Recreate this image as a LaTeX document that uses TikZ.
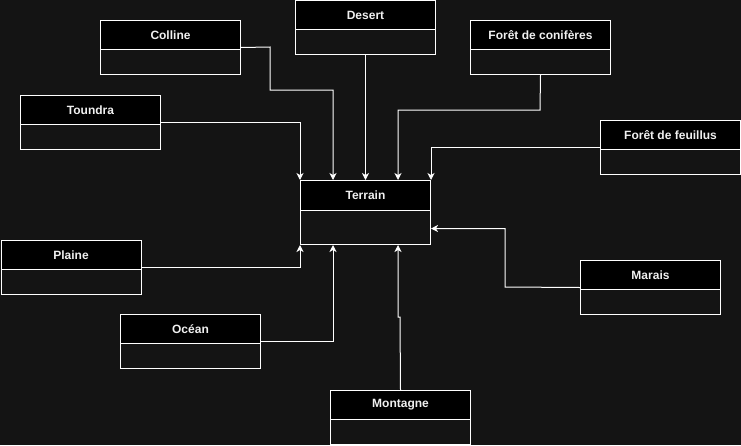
\documentclass[tikz,border=0pt]{standalone}
\usepackage{fontspec}
\setmainfont{Liberation Sans}
\usetikzlibrary{arrows.meta}
\definecolor{bg}{RGB}{20,20,20}
\definecolor{txt}{RGB}{240,240,240}
\tikzset{
  boxbody/.style={draw=white, line width=1pt, inner sep=0pt, rectangle},
  boxhead/.style={draw=white, fill=black, line width=1pt, inner sep=0pt, rectangle,
    text=txt, font=\fontsize{12}{14}\selectfont\bfseries},
  conn/.style={draw=white, line width=1pt, -{Stealth[length=7pt,width=7pt,inset=2pt]}},
}
\newcommand\umlbox[7]{%
  \node[boxbody, minimum width=#4pt, minimum height=#5pt, anchor=north west] (#1) at (#2,#3) {};
  \node[boxhead, minimum width=#4pt, minimum height=#6pt, anchor=north west] (#1-h) at (#2,#3) {#7};
}
\begin{document}
\begin{tikzpicture}[x=1pt,y=-1pt]
\fill[bg] (0,0) rectangle (741,445);
\useasboundingbox (0,0) rectangle (741,445);
\umlbox{colline}{100}{20}{140}{54}{29}{Colline}
\umlbox{desert}{295}{0}{140}{54}{29}{Desert}
\umlbox{conif}{470}{20}{140}{54}{29}{Forêt de conifères}
\umlbox{toundra}{20}{95}{140}{54}{29}{Toundra}
\umlbox{feuil}{600}{120}{140}{54}{29}{Forêt de feuillus}
\umlbox{terrain}{300}{180}{130}{64}{30}{Terrain}
\umlbox{plaine}{0.5}{240}{140}{54}{29}{Plaine}
\umlbox{ocean}{120}{314}{140}{54}{29}{Océan}
\umlbox{marais}{580}{260}{140}{54}{29}{Marais}
\umlbox{montagne}{330}{390}{140}{54}{29}{Montagne}

\draw[conn] (colline.east) -- (270,47) -- (270,90) -| ([xshift=33pt]terrain.north west);
\draw[conn] (desert.south) -- (desert.south |- terrain.north);
\draw[conn] (conif.south) -- (540,110) -| ([xshift=98pt]terrain.north west);
\draw[conn] (toundra.east) -| (terrain.north west);
\draw[conn] (feuil.west) -| (terrain.north east);
\draw[conn] (plaine.east) -| (terrain.south west);
\draw[conn] (ocean.east) -| ([xshift=33pt]terrain.south west);
\draw[conn] (montagne.north) -- (400,317) -- (398,317) -- ([xshift=98pt]terrain.south west);
\draw[conn] (marais.west) -- (505,287) |- ([yshift=-16pt]terrain.east);
\end{tikzpicture}
\end{document}
